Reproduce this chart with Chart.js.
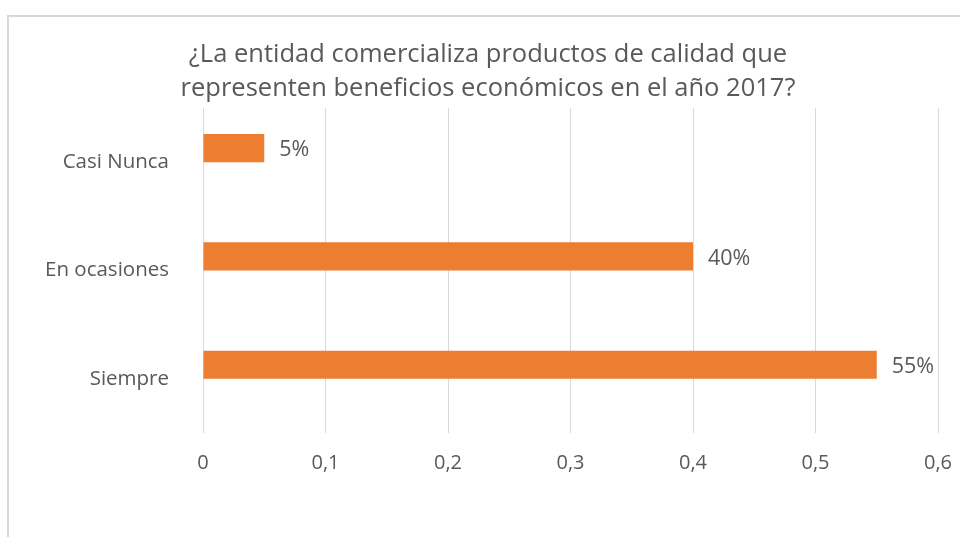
<!DOCTYPE html>
<html>
<head>
<meta charset="utf-8">
<script src="https://cdn.jsdelivr.net/npm/chart.js@4"></script>
<style>
  html, body { margin: 0; padding: 0; background: #fff; overflow: hidden; }
  canvas { display: block; }
</style>
</head>
<body>
<canvas id="chart1" width="960" height="537"></canvas>
<script>
const categories = ['Casi Nunca', 'En ocasiones', 'Siempre'];
const respuestas = [0.05, 0.40, 0.55];
const tickValues = [0, 0.1, 0.2, 0.3, 0.4, 0.5, 0.6];

const titulo = [
  '¿La entidad comercializa productos de calidad que',
  'representen beneficios económicos en el año 2017?'
];

const gris = '#595959';
const naranja = '#ED7D31';
const fuente = "'Open Sans', 'Noto Sans', sans-serif";

// marco gris del grafico (solo borde izquierdo y superior visibles)
const marco = {
  id: 'marco',
  beforeDraw(chart) {
    const ctx = chart.ctx;
    ctx.save();
    ctx.strokeStyle = '#d9d9d9';
    ctx.lineWidth = 2;
    ctx.beginPath();
    ctx.moveTo(8, 600);
    ctx.lineTo(8, 16);
    ctx.lineTo(1000, 16);
    ctx.stroke();
    ctx.restore();
  }
};

// etiquetas de porcentaje al final de cada barra
const etiquetas = {
  id: 'etiquetas',
  afterDatasetsDraw(chart) {
    const ctx = chart.ctx;
    const meta = chart.getDatasetMeta(0);
    ctx.save();
    ctx.font = '21.5px ' + fuente;
    ctx.fillStyle = gris;
    ctx.textAlign = 'left';
    ctx.textBaseline = 'middle';
    meta.data.forEach((bar, i) => {
      const txt = Math.round(respuestas[i] * 100) + '%';
      ctx.fillText(txt, bar.x + 15, bar.y + 2);
    });
    ctx.restore();
  }
};

const data = {
  labels: categories,
  datasets: [
    {
      label: 'Respuestas',
      data: respuestas,
      backgroundColor: naranja,
      borderWidth: 0,
      categoryPercentage: 0.52,
      barPercentage: 1
    },
    {
      // serie vacia: deja la barra en la mitad superior de cada categoria
      label: '',
      data: [],
      backgroundColor: naranja,
      categoryPercentage: 0.52,
      barPercentage: 1
    }
  ]
};

const config = {
  type: 'bar',
  data: data,
  options: {
    indexAxis: 'y',
    responsive: false,
    animation: false,
    layout: { padding: { left: 38, right: 22, top: 0, bottom: 0 } },
    plugins: {
      legend: { display: false },
      tooltip: { enabled: false },
      title: {
        display: true,
        text: titulo,
        color: gris,
        font: { family: fuente, size: 25.5, weight: 'normal', lineHeight: 1.333 },
        padding: { top: 38, bottom: 2 }
      }
    },
    scales: {
      x: {
        min: 0,
        max: 0.6,
        afterBuildTicks(scale) {
          scale.ticks = tickValues.map(v => ({ value: v }));
        },
        afterFit(scale) {
          scale.height = 104;
          scale.paddingLeft = 0;
          scale.paddingRight = 0;
        },
        grid: { color: '#d9d9d9', lineWidth: 1, drawTicks: false },
        border: { display: false },
        ticks: {
          color: gris,
          padding: 18,
          font: { family: fuente, size: 20 },
          callback: v => String(v).replace('.', ',')
        }
      },
      y: {
        afterFit(scale) { scale.width = 165; },
        grid: { display: false, drawTicks: false },
        border: { display: false },
        ticks: {
          color: gris,
          padding: 34,
          font: { family: fuente, size: 20.5 }
        }
      }
    }
  },
  plugins: [marco, etiquetas]
};

const myChart = new Chart(document.getElementById('chart1'), config);
</script>
</body>
</html>
